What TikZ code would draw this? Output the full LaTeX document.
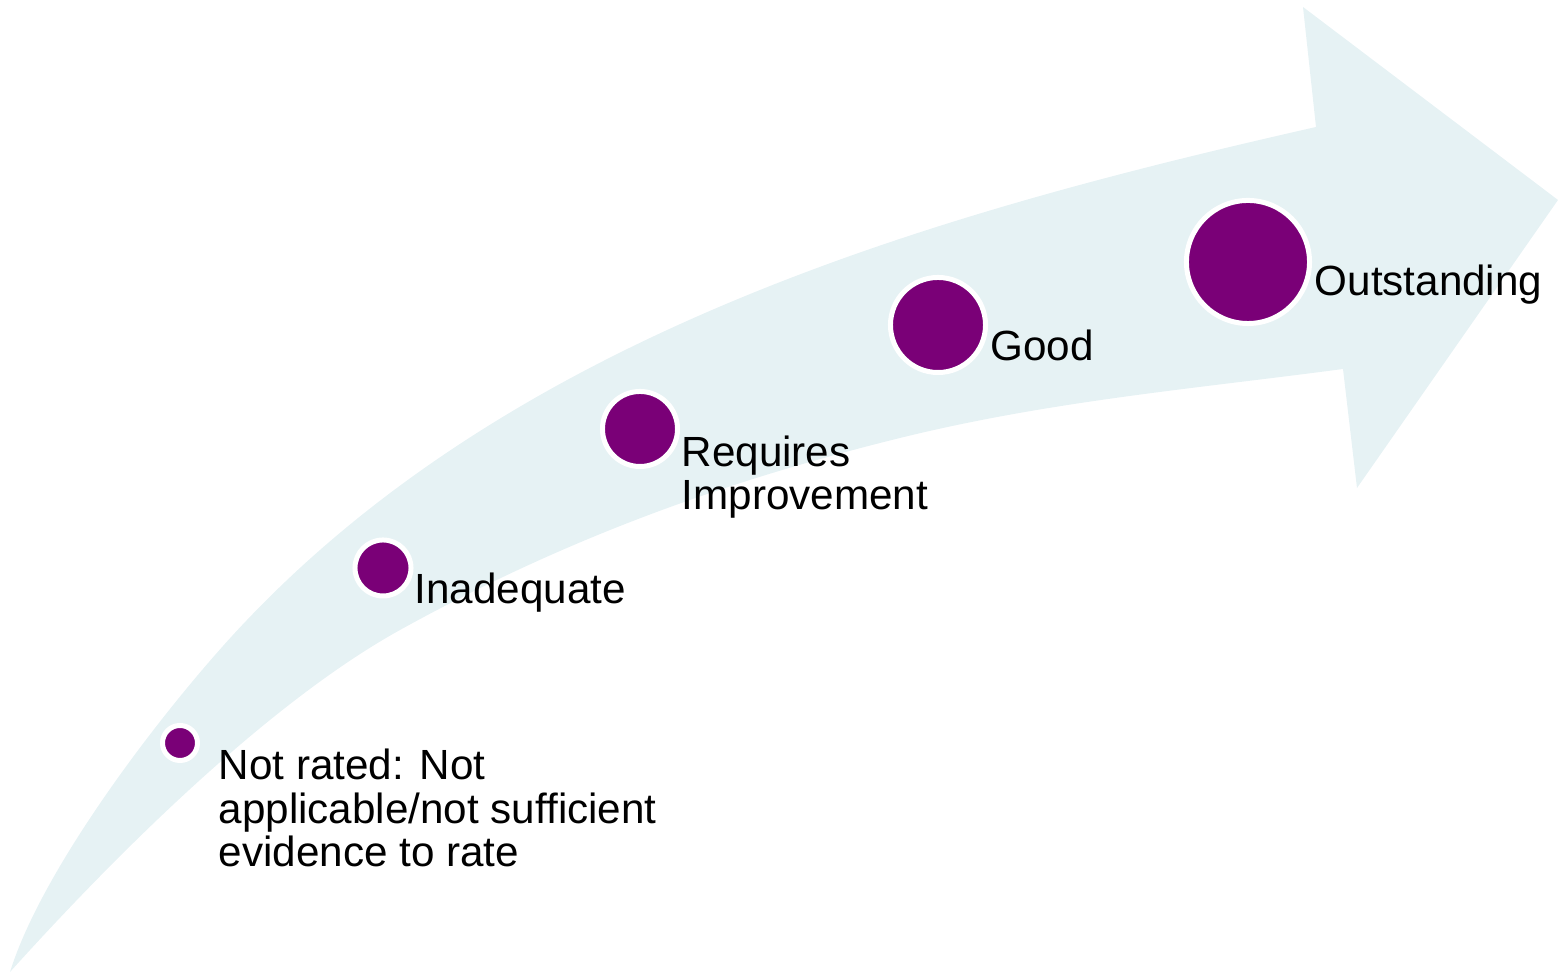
\documentclass[tikz,border=0pt]{standalone}
\usepackage{fontspec}
\setmainfont{Liberation Sans}
\definecolor{band}{HTML}{E6F2F4}
\definecolor{plum}{HTML}{7A0077}

\begin{document}
\begin{tikzpicture}[x=0.01cm, y=-0.01cm, dot/.style={circle,fill=plum,draw=white,line width=1.42pt,inner sep=0pt}, lbl/.style={anchor=base west,inner sep=0pt,align=left,font=\fontsize{12}{12.5}\selectfont}]
\useasboundingbox (0,0) rectangle (1562,974);
\fill[band] (10,972) .. controls (45,860) and (177,693) .. (247,620)
  .. controls (527,326) and (950,210) .. (1316,127)
  -- (1303,7) -- (1558,200) -- (1357,488) -- (1343,369)
  .. controls (1193,389) and (1050,401) .. (900,438)
  .. controls (730,480) and (570,536) .. (400,630)
  .. controls (270,702) and (120,850) .. cycle;
\node[dot,minimum size=0.35cm] (nr) at (180,743) {};
\node[dot,minimum size=0.56cm] (inad) at (383,568) {};
\node[dot,minimum size=0.75cm] (req) at (640,429) {};
\node[dot,minimum size=0.95cm] (good) at (938,325) {};
\node[dot,minimum size=1.23cm] (outs) at (1248,262) {};
\node[lbl] (nrtext) at (218,867) {Not rated: Not\\applicable/not sufficient\\evidence to rate};
\node[lbl] (inadtext) at (414,604) {Inadequate};
\node[lbl] (reqtext) at (681,510) {Requires\\Improvement};
\node[lbl] (goodtext) at (990,361) {Good};
\node[lbl] (outstext) at (1314,296) {Outstanding};
\end{tikzpicture}
\end{document}
